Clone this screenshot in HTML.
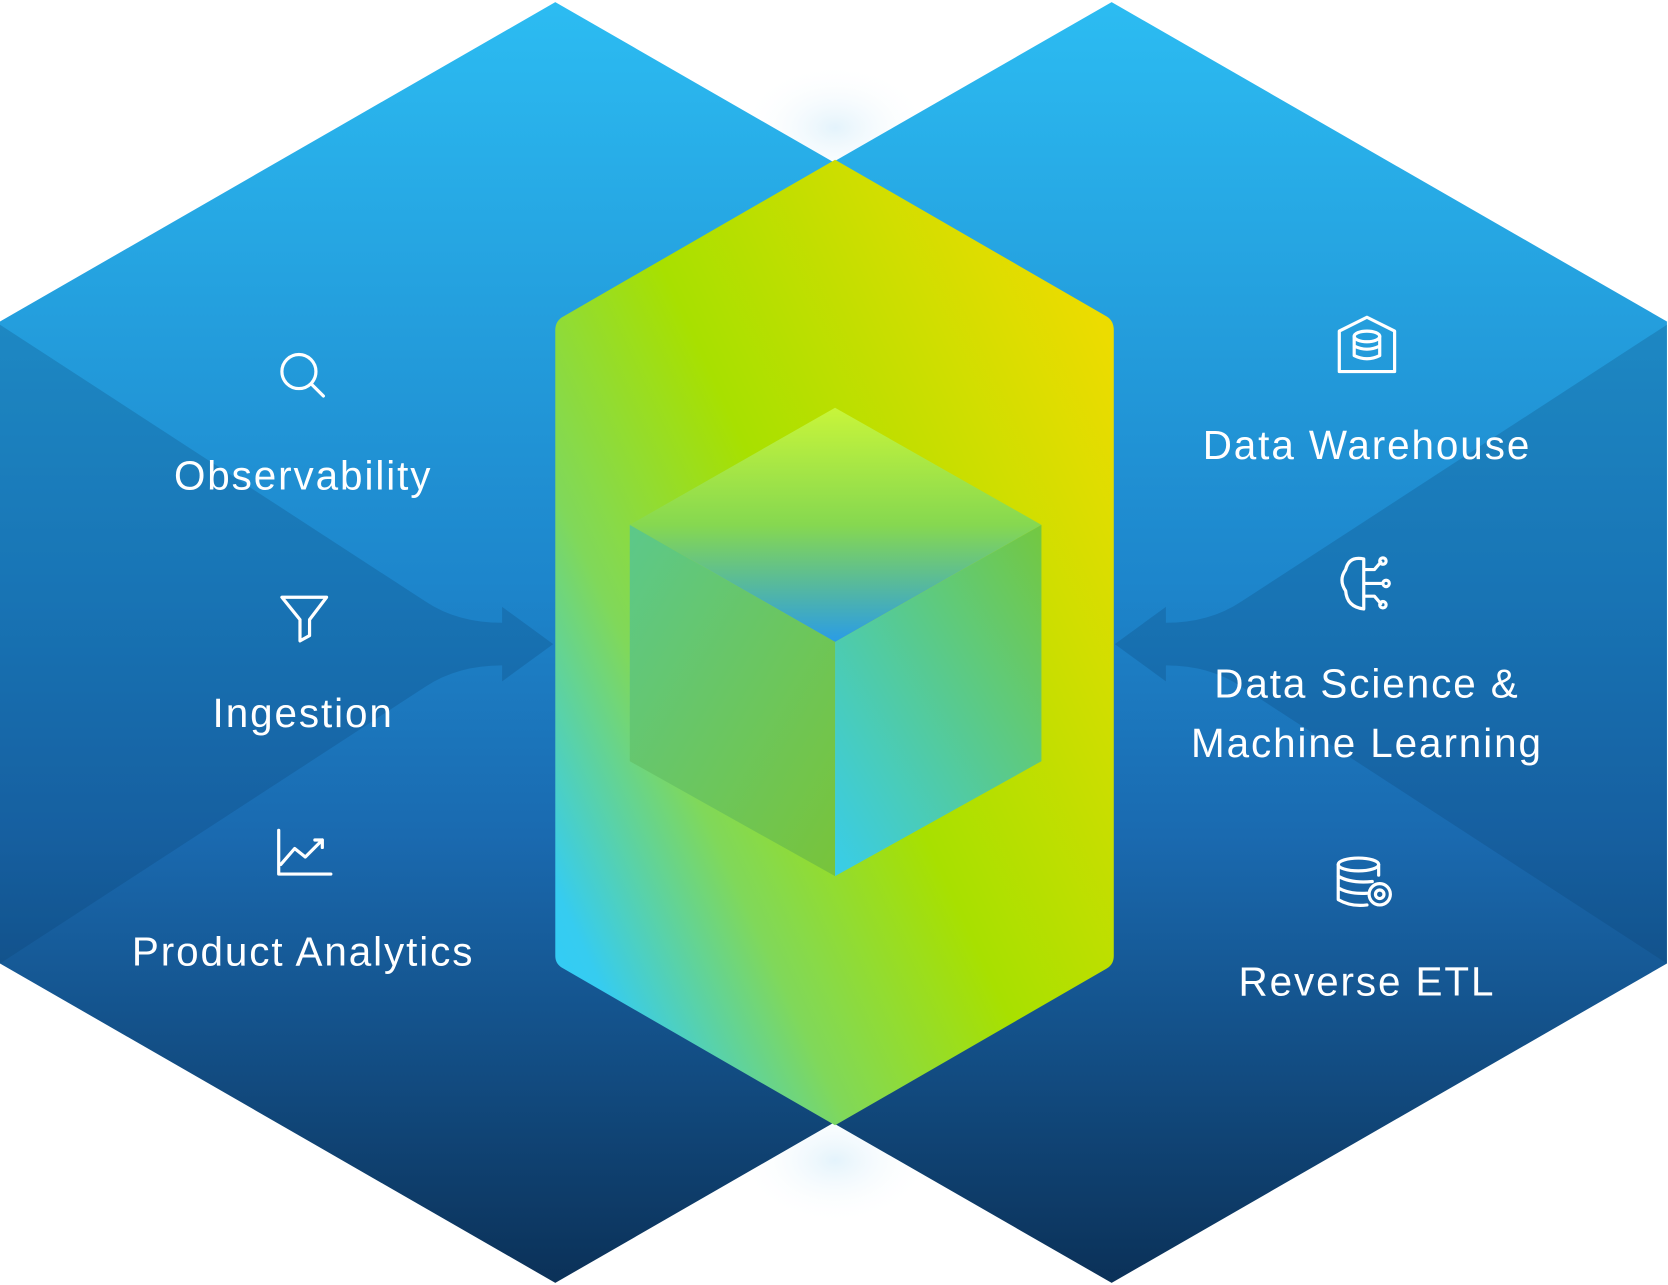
<!DOCTYPE html>
<html><head><meta charset="utf-8"><style>
html,body{margin:0;padding:0;background:#fff;}
svg{display:block}
text{font-family:"Liberation Sans",sans-serif;fill:#fff;font-size:38px;text-anchor:middle;letter-spacing:1.8px}
</style></head><body>
<svg width="1668" height="1285" viewBox="0 0 1568 1207" preserveAspectRatio="none" xmlns="http://www.w3.org/2000/svg">
<defs>
<linearGradient id="hx" x1="0" y1="0" x2="0" y2="1">
<stop offset="0" stop-color="#2cbcf2"/><stop offset="0.45" stop-color="#1d86cc"/><stop offset="0.65" stop-color="#1a6ab0"/><stop offset="1" stop-color="#0b3158"/></linearGradient>
<linearGradient id="ct" x1="0" y1="1" x2="1" y2="0.2">
<stop offset="0" stop-color="#2ecbff"/><stop offset="0.12" stop-color="#36ccf0"/><stop offset="0.32" stop-color="#80d85a"/><stop offset="0.55" stop-color="#a8e000"/><stop offset="1" stop-color="#ecdc00"/></linearGradient>
<linearGradient id="top" x1="0" y1="0" x2="0" y2="1">
<stop offset="0" stop-color="#c8f53a"/><stop offset="0.5" stop-color="#86d850"/><stop offset="1" stop-color="#2a9ce6"/></linearGradient>
<linearGradient id="lf" x1="0" y1="0" x2="1" y2="1">
<stop offset="0" stop-color="#5cc88a"/><stop offset="1" stop-color="#78c43a"/></linearGradient>
<linearGradient id="rf" x1="0" y1="1" x2="1" y2="0">
<stop offset="0" stop-color="#38cdea"/><stop offset="1" stop-color="#74c840"/></linearGradient>
<radialGradient id="gl"><stop offset="0" stop-color="#d8eefa" stop-opacity="0.7"/><stop offset="1" stop-color="#fff" stop-opacity="0"/></radialGradient>
</defs>
<ellipse cx="785" cy="120" rx="90" ry="60" fill="url(#gl)"/>
<ellipse cx="785" cy="1090" rx="90" ry="60" fill="url(#gl)"/>
<polygon points="522,2 1044,302 1044,905 522,1205 0,905 0,302" fill="url(#hx)"/>
<polygon points="1045,2 1567,302 1567,905 1045,1205 522,905 522,302" fill="url(#hx)"/>
<path d="M0,305 L400,565 Q430,585 472,585 L472,570 L520,605 L472,640 L472,625 Q430,625 400,645 L0,905 Z" fill="#0a3a6a" opacity="0.22"/>
<path d="M1567,305 L1167,565 Q1137,585 1096,585 L1096,570 L1048,605 L1096,640 L1096,625 Q1137,625 1167,645 L1567,905 Z" fill="#0a3a6a" opacity="0.22"/>
<path d="M785,150 L1040,297 Q1047,301 1047,310 L1047,898 Q1047,906 1040,910 L785,1057 L530,910 Q522,906 522,898 L522,310 Q522,301 530,297 Z" fill="url(#ct)"/>
<polygon points="785,383 979,493 785,603 592,493" fill="url(#top)"/>
<polygon points="592,493 785,603 785,823 592,715" fill="url(#lf)"/>
<polygon points="979,493 785,603 785,823 979,715" fill="url(#rf)"/>
<g fill="none" stroke="#fff" stroke-width="3" stroke-linecap="round" stroke-linejoin="round">
<circle cx="281" cy="349" r="16"/><line x1="293" y1="361" x2="304" y2="372"/>
<path d="M265,561 H307 L291,582 V597 L282,602 V582 Z"/>
<path d="M262,780 V821 H311 M264,812 L277,797 L287,805 L303,789 M296,789 H303 V796"/>
<path d="M1285,298 L1311,311 V349 H1259 V311 Z"/>
<ellipse cx="1285" cy="316" rx="12" ry="5"/><path d="M1273,316 V334 Q1285,340 1297,334 V316 M1273,325 Q1285,331 1297,325"/>
<path d="M1282,525 Q1268,522 1265,535 Q1258,545 1265,555 Q1266,570 1282,572 Z M1282,535 H1292 L1298,528 M1282,548 H1300 M1282,560 H1292 L1298,567"/>
<circle cx="1300" cy="527" r="3"/><circle cx="1303" cy="548" r="3"/><circle cx="1300" cy="568" r="3"/>
<ellipse cx="1277" cy="812" rx="19" ry="6"/><path d="M1258,812 V845 Q1270,852 1285,850 M1258,823 Q1270,830 1290,828 M1258,834 Q1268,840 1285,839 M1296,812 V822"/>
<circle cx="1297" cy="840" r="10"/><circle cx="1297" cy="840" r="4"/>
</g>
<text x="285" y="460">Observability</text>
<text x="285" y="683">Ingestion</text>
<text x="285" y="907">Product Analytics</text>
<text x="1285" y="431">Data Warehouse</text>
<text x="1285" y="655">Data Science &amp;</text>
<text x="1285" y="711">Machine Learning</text>
<text x="1285" y="935">Reverse ETL</text>
</svg>
</body></html>
